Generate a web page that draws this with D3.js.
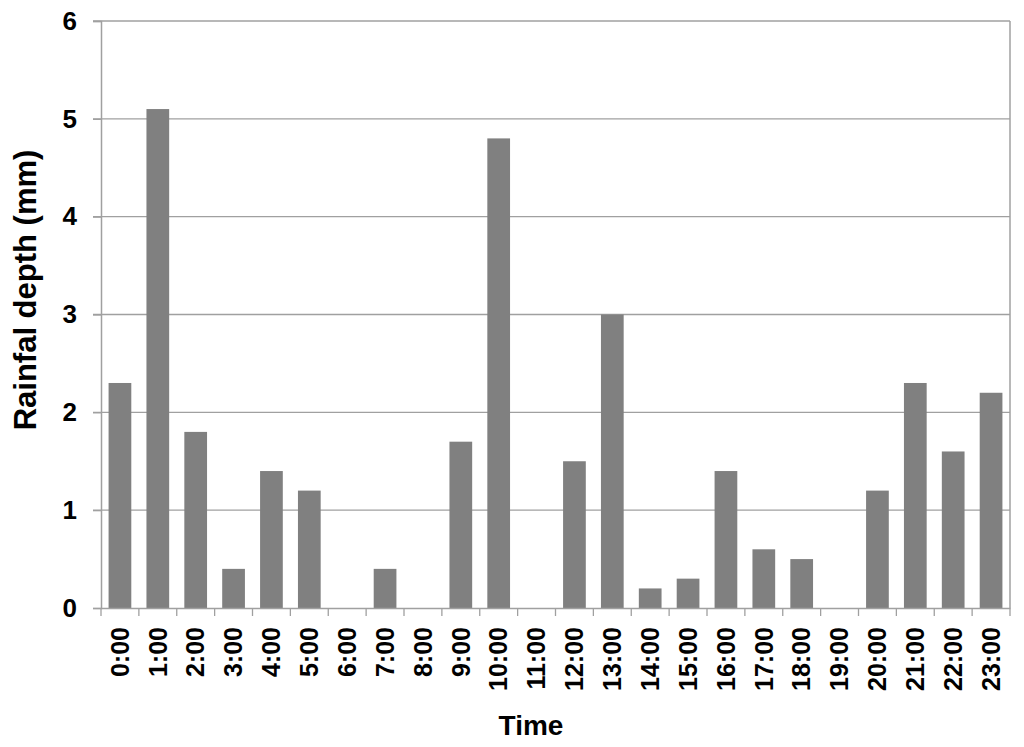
<!DOCTYPE html>
<html><head><meta charset="utf-8">
<script src="https://cdn.jsdelivr.net/npm/d3@7"></script>
<style>body{margin:0;background:#fff}svg{display:block}</style>
</head><body>
<script>
const categories = ["0:00","1:00","2:00","3:00","4:00","5:00","6:00","7:00","8:00","9:00","10:00","11:00","12:00","13:00","14:00","15:00","16:00","17:00","18:00","19:00","20:00","21:00","22:00","23:00"];
const rainfall = [2.3,5.1,1.8,0.4,1.4,1.2,0,0.4,0,1.7,4.8,0,1.5,3.0,0.2,0.3,1.4,0.6,0.5,0,1.2,2.3,1.6,2.2];
const yTicks = [0,1,2,3,4,5,6];

const W=1024,H=747;
const m={left:101,right:1010,top:21,bottom:608};
const svg=d3.select("body").append("svg").attr("width",W).attr("height",H);
const font="'Liberation Sans', Arial, sans-serif";

const x=d3.scaleBand().domain(categories).range([m.left,m.right]).paddingInner(0.4).paddingOuter(0.2);
const y=d3.scaleLinear().domain([0,6]).range([m.bottom,m.top]);

// gridlines
svg.append("g").selectAll("line").data(yTicks.filter(d=>d>0)).join("line")
  .attr("x1",m.left-8).attr("x2",m.right).attr("y1",d=>y(d)).attr("y2",d=>y(d))
  .attr("stroke","#a0a0a0").attr("stroke-width",1.3);

// right border
svg.append("line").attr("x1",m.right).attr("x2",m.right).attr("y1",m.top).attr("y2",m.bottom)
  .attr("stroke","#a0a0a0").attr("stroke-width",1.5);

// bars
svg.append("g").selectAll("rect").data(rainfall).join("rect")
  .attr("x",(d,i)=>x(categories[i])).attr("width",x.bandwidth())
  .attr("y",d=>y(d)).attr("height",d=>y(0)-y(d)).attr("fill","#808080");

// y axis
const ya=svg.append("g").attr("transform",`translate(${m.left},0)`)
  .call(d3.axisLeft(y).tickValues(yTicks).tickSize(8).tickPadding(16).tickFormat(d3.format("d")));
ya.select(".domain").attr("stroke","#a0a0a0").attr("stroke-width",1.5);
ya.selectAll(".tick line").attr("stroke","#a0a0a0").attr("stroke-width",1.3);
ya.selectAll("text").attr("font-family",font).attr("font-size",26).attr("font-weight","bold").attr("fill","#000");

// x axis
const xa=svg.append("g").attr("transform",`translate(0,${m.bottom})`)
  .call(d3.axisBottom(x).tickSize(0).tickPadding(0));
xa.select(".domain").attr("stroke","#a0a0a0").attr("stroke-width",1.5);
const step=x.step();
const bounds=d3.range(categories.length+1).map(i=>m.left+i*step);
xa.selectAll(".bt").data(bounds).join("line").attr("class","bt")
  .attr("x1",d=>d).attr("x2",d=>d).attr("y1",0).attr("y2",8)
  .attr("stroke","#a0a0a0").attr("stroke-width",1.3);
xa.selectAll(".tick text")
  .attr("font-family",font).attr("font-size",25).attr("font-weight","bold").attr("fill","#000")
  .attr("transform","rotate(-90)").attr("text-anchor","end").attr("dy","0.35em")
  .attr("x",-19).attr("y",0);

// titles
svg.append("text").attr("x",531).attr("y",735).attr("text-anchor","middle")
  .attr("font-family",font).attr("font-size",28).attr("font-weight","bold").text("Time");
svg.append("text").attr("transform","translate(36,290) rotate(-90)").attr("text-anchor","middle")
  .attr("font-family",font).attr("font-size",31).attr("font-weight","bold").text("Rainfal depth (mm)");
</script>
</body></html>
